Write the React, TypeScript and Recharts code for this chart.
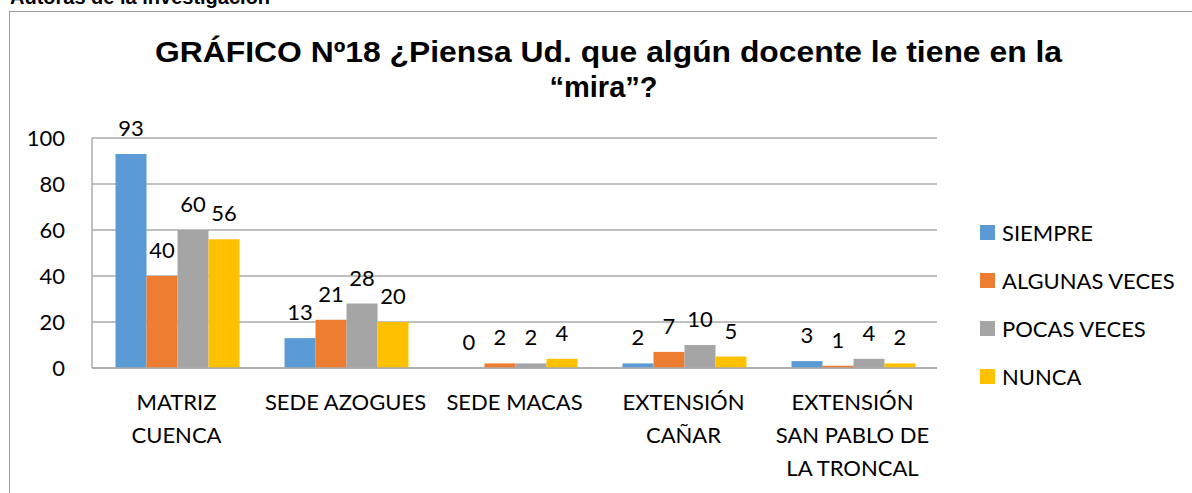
import { BarChart, Bar, XAxis, YAxis, CartesianGrid, LabelList } from 'recharts';

const CATEGORIES = [
  'MATRIZ\nCUENCA',
  'SEDE AZOGUES',
  'SEDE MACAS',
  'EXTENSIÓN\nCAÑAR',
  'EXTENSIÓN\nSAN PABLO DE\nLA TRONCAL',
];
const SIEMPRE = [93, 13, 0, 2, 3];
const ALGUNAS_VECES = [40, 21, 2, 7, 1];
const POCAS_VECES = [60, 28, 2, 10, 4];
const NUNCA = [56, 20, 4, 5, 2];
const Y_TICKS = [0, 20, 40, 60, 80, 100];

const SERIES = [
  { key: 'siempre', name: 'SIEMPRE', color: '#5B9BD5' },
  { key: 'algunas', name: 'ALGUNAS VECES', color: '#ED7D31' },
  { key: 'pocas', name: 'POCAS VECES', color: '#A5A5A5' },
  { key: 'nunca', name: 'NUNCA', color: '#FFC000' },
];

const FONT = 'Lato, "Open Sans", sans-serif';
const TITLE_FONT = "Arial, 'Liberation Sans', sans-serif";
const GRID = '#ababab';

const data = CATEGORIES.map((name, i) => ({
  name,
  siempre: SIEMPRE[i],
  algunas: ALGUNAS_VECES[i],
  pocas: POCAS_VECES[i],
  nunca: NUNCA[i],
}));

function CategoryTick({ x, y, payload }: any) {
  const lines = String(payload.value).split('\n');
  return (
    <text x={x} y={y + 42} textAnchor="middle" fontSize={22} fontFamily={FONT} fill="#000">
      {lines.map((line, i) => (
        <tspan key={i} x={x} dy={i === 0 ? 0 : 33}>
          {line}
        </tspan>
      ))}
    </text>
  );
}

// value label above each bar (also drawn for zero values)
function ValueLabel(props: any) {
  const { x, y, width, height, value } = props;
  if (value === undefined || value === null) return null;
  const top = Math.min(Number(y), Number(y) + Number(height));
  return (
    <text x={Number(x) + Number(width) / 2} y={top - 18} textAnchor="middle" fontSize={22} fontFamily={FONT} fill="#000">
      {String(value)}
    </text>
  );
}

function LegendBox() {
  return (
    <div
      style={{
        position: 'absolute',
        left: 980,
        top: 208,
        fontFamily: FONT,
        fontSize: 22,
        color: '#000',
      }}
    >
      {SERIES.map((s) => (
        <div key={s.key} style={{ display: 'flex', alignItems: 'center', height: 48 }}>
          <div style={{ width: 15, height: 15, background: s.color, marginRight: 7 }} />
          <span style={{ whiteSpace: 'nowrap' }}>{s.name}</span>
        </div>
      ))}
    </div>
  );
}

export default function App() {
  return (
    <div
      style={{
        position: 'absolute',
        left: 0,
        top: 0,
        width: 1192,
        height: 493,
        overflow: 'hidden',
        background: '#fff',
      }}
    >
      {/* caption above the frame, cut off at the top like the source */}
      <svg width={1192} height={493} style={{ position: 'absolute', left: 0, top: 0 }}>
        <text x={10} y={4} fontFamily={TITLE_FONT} fontWeight="bold" fontSize={20} fill="#000">
          Autoras de la investigación
        </text>
        <rect x={9.5} y={11.5} width={1300} height={600} fill="none" stroke="#a0a0a0" strokeWidth={1} />
        <text
          x={608.5}
          y={62}
          textAnchor="middle"
          fontFamily={TITLE_FONT}
          fontWeight="bold"
          fontSize={29}
          textLength={907}
          lengthAdjust="spacingAndGlyphs"
          fill="#000"
        >
          GRÁFICO Nº18 ¿Piensa Ud. que algún docente le tiene en la
        </text>
        <text x={603.5} y={97} textAnchor="middle" fontFamily={TITLE_FONT} fontWeight="bold" fontSize={29} fill="#000">
          “mira”?
        </text>
      </svg>

      <div style={{ position: 'absolute', left: 0, top: 0 }}>
        <BarChart
          width={1192}
          height={493}
          data={data}
          margin={{ top: 138, right: 255, left: 0, bottom: 0 }}
          barCategoryGap={23.5}
          barGap={0}
        >
          <CartesianGrid vertical={false} stroke={GRID} strokeWidth={1.5} />
          <XAxis
            dataKey="name"
            height={125}
            interval={0}
            tickSize={0}
            tickMargin={0}
            tickLine={false}
            axisLine={{ stroke: GRID, strokeWidth: 1.5 }}
            tick={<CategoryTick />}
          />
          <YAxis
            width={92}
            domain={[0, 100]}
            ticks={Y_TICKS}
            tickSize={0}
            tickMargin={27}
            tickLine={false}
            axisLine={{ stroke: GRID, strokeWidth: 1.5 }}
            tick={{ fontSize: 22, fontFamily: FONT, fill: '#000' }}
          />
          {SERIES.map((s) => (
            <Bar
              key={s.key}
              dataKey={s.key}
              name={s.name}
              fill={s.color}
              minPointSize={0.01}
              isAnimationActive={false}
            >
              <LabelList dataKey={s.key} content={<ValueLabel />} />
            </Bar>
          ))}
        </BarChart>
      </div>

      <LegendBox />
    </div>
  );
}
